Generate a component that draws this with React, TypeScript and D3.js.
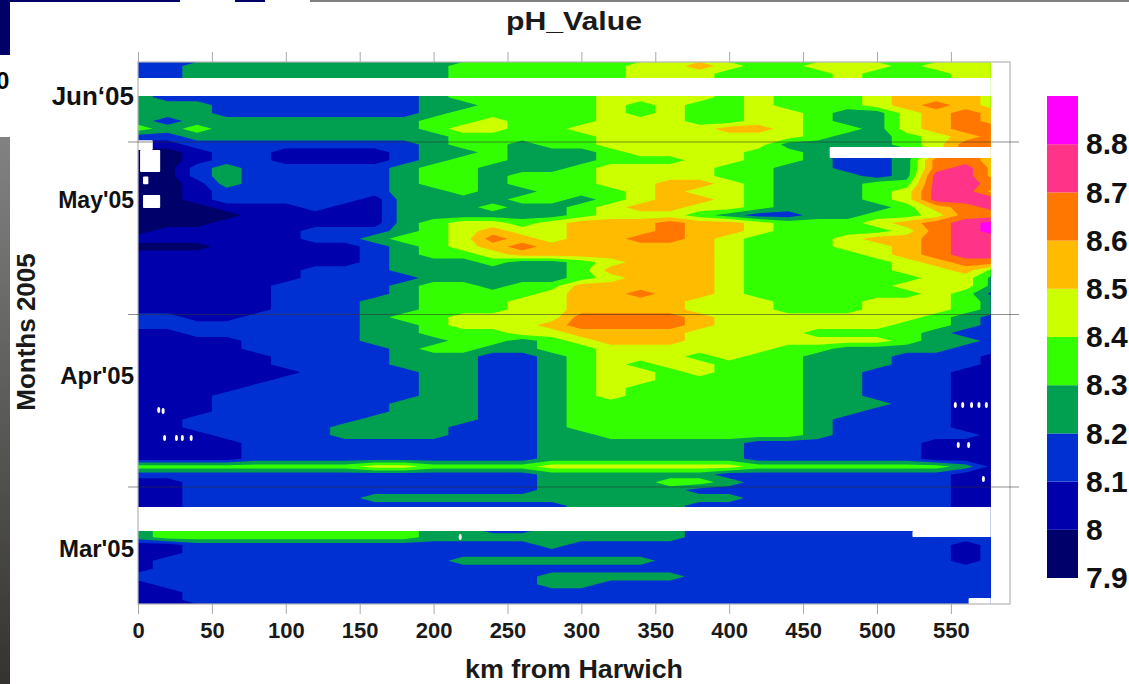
import React, { useRef, useEffect } from 'react';
import * as d3 from 'd3';

const WIDTH = 1129;
const HEIGHT = 684;
const FONT = '"Liberation Sans", Arial, sans-serif';

// band colours, lowest (7.9-8.0) to highest (8.8-8.9)
const bandColors = ['#00006a', '#0000ac', '#0030d2', '#00a050', '#33ff00', '#ccff00', '#ffbb00', '#ff7700', '#ff3388', '#ff00ff'];
const bandEdges = [7.9, 8.0, 8.1, 8.2, 8.3, 8.4, 8.5, 8.6, 8.7, 8.8, 8.9];
const scaleLabels = [7.9, 8, 8.1, 8.2, 8.3, 8.4, 8.5, 8.6, 8.7, 8.8];

const kmTicks = [0, 50, 100, 150, 200, 250, 300, 350, 400, 450, 500, 550];
const kmColumns = [0, 20, 40, 60, 80, 100, 120, 140, 160, 180, 200, 220, 240, 260, 280, 300, 320, 340, 360, 380, 400, 420, 440, 460, 480, 500, 520, 540, 560, 580];

// months after 1 March 2005
const monthBoundaries = [1, 2, 3];
const monthNames = ["Mar'05", "Apr'05", "May'05", 'Jun‘05'];
const monthLabelAt = [0.646, 1.649, 2.664, 3.267];
const monthLabelSize = [24, 24, 23, 26];

// pH, newest row first, one character per km column.
// each digit d is the band 7.9 + d/10 .. 8.0 + d/10
const pHRows = [
  '223333333334444445565445554555',
  '223333333334444445554444544455',
  '223333333334444445554444544455',
  '322222222234444455554544456665',
  '322222222234444455554544456665',
  '333222222233444454544544456765',
  '333222222234444454544554335676',
  '323333333344544455544554335676',
  '434333333345544555556654435677',
  '223333333334444455555554334567',
  '112222222234434455555533334577',
  '001221111233433345555443223576',
  '001221111234433344455443223776',
  '002322222344333455554433223786',
  '002322222344344455554433323886',
  '001322222344344455665433344887',
  '001222222334334445655433345886',
  '001222221333344345665433345888',
  '000111211333433456655433334678',
  '000011111333333455543223344577',
  '000111111345545666766544456789',
  '011111222345655666766544445789',
  '111111223445765667765444566788',
  '000111112345676666665444556788',
  '111111112344566666665444456788',
  '111111112333433456665444445677',
  '111111222333333466665444445564',
  '111111222233333456665444444553',
  '111112222344344666665444445553',
  '111112222344445667665444444542',
  '111112223344455666655544455543',
  '111112223344455666655544455543',
  '221122223445555777765555555432',
  '222222223345556777765555554432',
  '112222223344455666655554444322',
  '111122223334434566655555554332',
  '111122222344334455555544333322',
  '111112222333223455545443332221',
  '111112222333223454554443332221',
  '111111222233223455454443322211',
  '111112222233223455444443322211',
  '111122222233223454444443322211',
  '111222222233223454444443322211',
  '111222222333223444444443332211',
  '111222222333223444444443322211',
  '112222223333223444444443222211',
  '112222233332223444444443222211',
  '111222233332223344444443222221',
  '111122222222223333333222222111',
  '111122222222223333333222222111',
  '111122222222223333333222222111',
  '444444445544445555555444444431',
  '222222222222223333332222222211',
  '112222222222223333443222222211',
  '112222222222223333322222222211',
  '112222223333333333333222222211',
  '112222222222222333322222222211',
  '112222222222222333322222222211',
  '344444444433223333322222222222',
  '344444444433223333322222222222',
  '344444444433333333322222222222',
  '112222222222223222222222222212',
  '112222222222222222222222222212',
  '122222222223333333222222222212',
  '122222222222222222222222222222',
  '222222222222223333322222222222',
  '122222222222223322222222222222',
  '112222222222222222222222222222',
  '112222222222222222222222222222',
];

// stretches with no data: km from, km to, month from, month to
const dataGaps = [
  [-10, 590, 3.371, 3.267],
  [-10, 590, 0.884, 0.745],
  [468, 590, 2.971, 2.907],
  [524, 590, 0.745, 0.71],
  [562, 590, 0.357, 0.31],
  [-10, 10, 3.01, 2.954],
  [1.4, 15, 2.954, 2.826],
  [3.4, 7, 2.8, 2.755],
  [3.4, 15, 2.693, 2.617],
];

// single missing samples: km, month
const missingKm = [553, 558, 564, 569, 574, 14, 17, 18, 26, 30, 36, 555, 562, 572, 218];
const missingMonth = [1.476, 1.476, 1.476, 1.476, 1.476, 1.447, 1.441, 1.284, 1.284, 1.284, 1.284, 1.244, 1.244, 1.046, 0.71];

const App = () => {
  const ref = useRef<SVGSVGElement | null>(null);

  useEffect(() => {
    if (!ref.current) return;
    const svg = d3.select(ref.current);
    svg.selectAll('*').remove();

    const left = 138;
    const right = 1010;
    const top = 62;
    const bottom = 604;

    const x = d3.scaleLinear().domain([0, 590]).range([left, right]);
    const monthTop = 1 + (487 - top) / 172.5;
    const monthBottom = 1 + (487 - bottom) / 172.5;
    const y = d3.scaleLinear().domain([monthBottom, monthTop]).range([bottom, top]);

    const nx = kmColumns.length;
    const ny = pHRows.length;
    const kmStep = kmColumns[1] - kmColumns[0];
    const monthStep = (monthTop - monthBottom) / ny;

    // leftovers of the slide behind the chart
    const defs = svg.append('defs');
    const fade = defs.append('linearGradient').attr('id', 'sideFade').attr('x1', 0).attr('x2', 0).attr('y1', 0).attr('y2', 1);
    fade.append('stop').attr('offset', 0).attr('stop-color', '#828282');
    fade.append('stop').attr('offset', 1).attr('stop-color', '#34332f');
    defs.append('clipPath').attr('id', 'plotClip').append('rect')
      .attr('x', x(0)).attr('y', top).attr('width', x(577) - x(0)).attr('height', bottom - top);

    svg.append('rect').attr('x', 0).attr('y', 137).attr('width', 10).attr('height', HEIGHT - 137).attr('fill', 'url(#sideFade)');
    svg.append('rect').attr('x', 0).attr('y', 0).attr('width', 10).attr('height', 55).attr('fill', '#000066');
    svg.append('rect').attr('x', 10).attr('y', 0).attr('width', 170).attr('height', 2).attr('fill', '#000066');
    svg.append('rect').attr('x', 235).attr('y', 0).attr('width', 30).attr('height', 2).attr('fill', '#000066');
    svg.append('rect').attr('x', 310).attr('y', 0).attr('width', WIDTH - 310).attr('height', 2).attr('fill', '#808080');
    svg.append('text').attr('x', -4).attr('y', 89).attr('font-family', FONT).attr('font-weight', 700).attr('font-size', 24).text('0');

    // filled contours
    const values = pHRows.flatMap(row => kmColumns.map((_, i) => 7.95 + Number(row[i]) * 0.1));
    const contours = d3.contours().size([nx, ny]).thresholds(bandEdges.slice(0, -1))(values);
    const path = d3.geoPath(d3.geoTransform({
      point(gx: number, gy: number) {
        this.stream.point(x((gx - 0.5) * kmStep), y(monthTop - gy * monthStep));
      },
    }));

    const plot = svg.append('g').attr('clip-path', 'url(#plotClip)');
    plot.selectAll('path')
      .data(contours)
      .join('path')
      .attr('d', d => path(d))
      .attr('fill', (_, i) => bandColors[i]);

    plot.selectAll('rect')
      .data(dataGaps)
      .join('rect')
      .attr('x', d => x(d[0]))
      .attr('width', d => x(d[1]) - x(d[0]))
      .attr('y', d => y(d[2]))
      .attr('height', d => y(d[3]) - y(d[2]))
      .attr('rx', 1)
      .attr('fill', '#fff');

    plot.selectAll('ellipse')
      .data(missingKm)
      .join('ellipse')
      .attr('cx', d => x(d))
      .attr('cy', (_, i) => y(missingMonth[i]))
      .attr('rx', 1.5)
      .attr('ry', 3)
      .attr('fill', '#fff');

    // frame
    svg.append('rect')
      .attr('x', left).attr('y', top).attr('width', right - left).attr('height', bottom - top)
      .attr('fill', 'none').attr('stroke', '#b4b4b4').attr('stroke-width', 1.2);

    // month boundary lines run through the plot and past the frame
    svg.selectAll('line.month')
      .data(monthBoundaries)
      .join('line')
      .attr('class', 'month')
      .attr('x1', left - 10)
      .attr('x2', right + 9)
      .attr('y1', d => y(d))
      .attr('y2', d => y(d))
      .attr('stroke', 'rgba(50,50,50,0.55)')
      .attr('stroke-width', 1);

    const xAxis = svg.append('g')
      .attr('transform', `translate(0,${bottom})`)
      .call(d3.axisBottom(x).tickValues(kmTicks).tickSize(10).tickPadding(8).tickFormat(d3.format('d')));
    xAxis.select('.domain').remove();
    xAxis.selectAll('line').attr('stroke', '#a8a8a8');
    xAxis.selectAll('text').attr('font-family', FONT).attr('font-weight', 700).attr('font-size', 22).attr('fill', '#1a1a1a');

    const topAxis = svg.append('g')
      .attr('transform', `translate(0,${top})`)
      .call(d3.axisTop(x).tickValues(kmTicks).tickSize(10).tickFormat(() => ''));
    topAxis.select('.domain').remove();
    topAxis.selectAll('line').attr('stroke', '#a8a8a8');

    svg.selectAll('text.month')
      .data(monthNames)
      .join('text')
      .attr('class', 'month')
      .attr('x', 134)
      .attr('y', (_, i) => y(monthLabelAt[i]))
      .attr('dy', '0.36em')
      .attr('text-anchor', 'end')
      .attr('font-family', FONT)
      .attr('font-weight', 700)
      .attr('font-size', (_, i) => monthLabelSize[i])
      .attr('fill', '#111')
      .text(d => d);

    svg.append('text')
      .attr('x', 574).attr('y', 30).attr('text-anchor', 'middle')
      .attr('textLength', 136).attr('lengthAdjust', 'spacingAndGlyphs')
      .attr('font-family', FONT).attr('font-weight', 700).attr('font-size', 26).attr('fill', '#1a1a1a')
      .text('pH_Value');

    svg.append('text')
      .attr('x', 574).attr('y', 678).attr('text-anchor', 'middle')
      .attr('textLength', 218).attr('lengthAdjust', 'spacingAndGlyphs')
      .attr('font-family', FONT).attr('font-weight', 700).attr('font-size', 25).attr('fill', '#1a1a1a')
      .text('km from Harwich');

    svg.append('text')
      .attr('transform', 'translate(35,332) rotate(-90)').attr('text-anchor', 'middle')
      .attr('font-family', FONT).attr('font-weight', 700).attr('font-size', 26).attr('fill', '#1a1a1a')
      .text('Months 2005');

    // colour scale
    const barX = 1047;
    const barW = 31;
    const c = d3.scaleLinear().domain([7.9, 8.9]).range([578, 96]);
    svg.append('g').selectAll('rect')
      .data(bandColors)
      .join('rect')
      .attr('x', barX)
      .attr('width', barW)
      .attr('y', (_, i) => c(bandEdges[i + 1]))
      .attr('height', (_, i) => c(bandEdges[i]) - c(bandEdges[i + 1]))
      .attr('fill', d => d);

    const barAxis = svg.append('g')
      .attr('transform', `translate(${barX + barW},0)`)
      .call(d3.axisRight(c).tickValues(scaleLabels).tickSize(0).tickPadding(8).tickFormat(d => String(d)));
    barAxis.select('.domain').remove();
    barAxis.selectAll('text').attr('font-family', FONT).attr('font-weight', 700).attr('font-size', 30).attr('fill', '#111');
  }, []);

  return (
    <svg
      ref={ref}
      width={WIDTH}
      height={HEIGHT}
      style={{ position: 'absolute', left: 0, top: 0, background: '#fff' }}
    />
  );
};

export default App;
